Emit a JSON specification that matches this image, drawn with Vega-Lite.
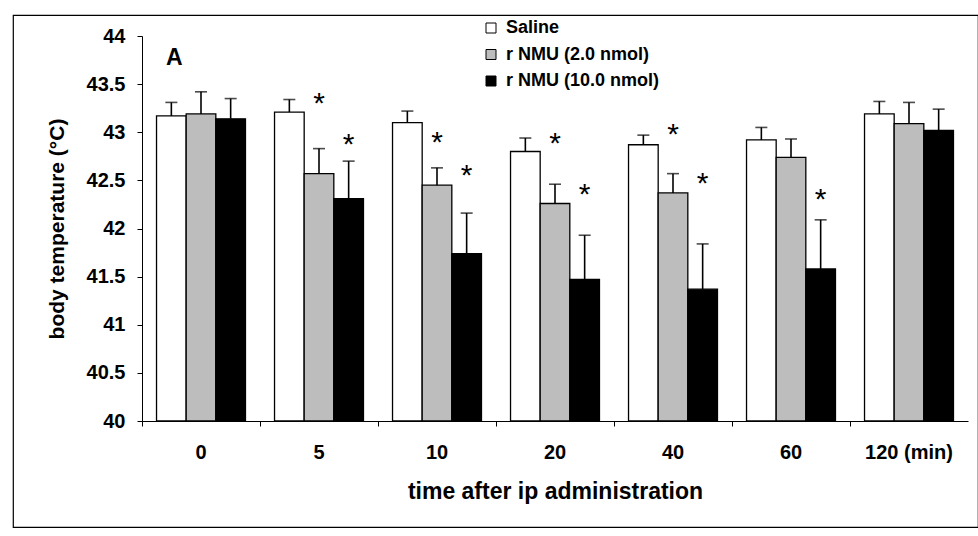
{
  "$schema": "https://vega.github.io/schema/vega-lite/v6.json",
  "autosize": "none",
  "width": 965,
  "height": 512,
  "padding": {"left": 13, "top": 15, "right": 0, "bottom": 9},
  "background": "white",
  "config": {
    "view": {"stroke": "black", "strokeWidth": 1.2},
    "font": "Liberation Sans",
    "axis": {
      "grid": false,
      "domainColor": "black",
      "domainWidth": 1,
      "tickColor": "black",
      "tickWidth": 1,
      "tickSize": 5,
      "labelColor": "black",
      "labelFont": "Liberation Sans",
      "labelFontWeight": "bold",
      "labelFontSize": 20,
      "titleColor": "black",
      "titleFont": "Liberation Sans",
      "titleFontWeight": "bold"
    }
  },
  "data": {
    "values": [
      {"time": "0", "group": "Saline", "mean": 43.17, "upper": 43.31, "star": null},
      {"time": "0", "group": "r NMU (2.0 nmol)", "mean": 43.19, "upper": 43.42, "star": null},
      {"time": "0", "group": "r NMU (10.0 nmol)", "mean": 43.14, "upper": 43.35, "star": null},
      {"time": "5", "group": "Saline", "mean": 43.21, "upper": 43.34, "star": null},
      {"time": "5", "group": "r NMU (2.0 nmol)", "mean": 42.57, "upper": 42.83, "star": 43.38},
      {"time": "5", "group": "r NMU (10.0 nmol)", "mean": 42.31, "upper": 42.70, "star": 42.95},
      {"time": "10", "group": "Saline", "mean": 43.10, "upper": 43.22, "star": null},
      {"time": "10", "group": "r NMU (2.0 nmol)", "mean": 42.45, "upper": 42.63, "star": 42.97},
      {"time": "10", "group": "r NMU (10.0 nmol)", "mean": 41.74, "upper": 42.16, "star": 42.63},
      {"time": "20", "group": "Saline", "mean": 42.80, "upper": 42.94, "star": null},
      {"time": "20", "group": "r NMU (2.0 nmol)", "mean": 42.26, "upper": 42.46, "star": 42.96},
      {"time": "20", "group": "r NMU (10.0 nmol)", "mean": 41.47, "upper": 41.93, "star": 42.43},
      {"time": "40", "group": "Saline", "mean": 42.87, "upper": 42.97, "star": null},
      {"time": "40", "group": "r NMU (2.0 nmol)", "mean": 42.37, "upper": 42.57, "star": 43.05},
      {"time": "40", "group": "r NMU (10.0 nmol)", "mean": 41.37, "upper": 41.84, "star": 42.55},
      {"time": "60", "group": "Saline", "mean": 42.92, "upper": 43.05, "star": null},
      {"time": "60", "group": "r NMU (2.0 nmol)", "mean": 42.74, "upper": 42.93, "star": null},
      {"time": "60", "group": "r NMU (10.0 nmol)", "mean": 41.58, "upper": 42.09, "star": 42.38},
      {"time": "120", "group": "Saline", "mean": 43.19, "upper": 43.32, "star": null},
      {"time": "120", "group": "r NMU (2.0 nmol)", "mean": 43.09, "upper": 43.31, "star": null},
      {"time": "120", "group": "r NMU (10.0 nmol)", "mean": 43.02, "upper": 43.24, "star": null}
    ]
  },
  "encoding": {
    "x": {
      "field": "time",
      "type": "nominal",
      "sort": ["0", "5", "10", "20", "40", "60", "120"],
      "scale": {"range": [129, 955], "paddingInner": 0, "paddingOuter": 0},
      "axis": {
        "orient": "bottom",
        "offset": -106,
        "bandPosition": 0,
        "labelAngle": 0,
        "labelPadding": 16,
        "labelExpr": "datum.value == '120' ? '120 (min)' : datum.value",
        "title": "time after ip administration",
        "titleFontSize": 23,
        "titlePadding": 18
      }
    },
    "xOffset": {
      "field": "group",
      "type": "nominal",
      "sort": ["Saline", "r NMU (2.0 nmol)", "r NMU (10.0 nmol)"],
      "scale": {"paddingInner": 0, "paddingOuter": 0.49}
    }
  },
  "layer": [
    {
      "mark": {"type": "bar", "stroke": "black", "strokeWidth": 1.3},
      "encoding": {
        "y": {
          "field": "mean",
          "type": "quantitative",
          "scale": {"domain": [40, 44], "range": [406, 21], "zero": false, "nice": false},
          "axis": {
            "orient": "left",
            "offset": -129,
            "values": [40, 40.5, 41, 41.5, 42, 42.5, 43, 43.5, 44],
            "format": "~g",
            "labelPadding": 12,
            "title": "body temperature (°C)",
            "titleFontSize": 21,
            "titlePadding": 19
          }
        },
        "y2": {"datum": 40},
        "fill": {
          "field": "group",
          "type": "nominal",
          "sort": ["Saline", "r NMU (2.0 nmol)", "r NMU (10.0 nmol)"],
          "scale": {"range": ["white", "#bdbdbd", "black"]},
          "legend": {
            "orient": "none",
            "legendX": 469,
            "legendY": 4,
            "title": null,
            "symbolType": "square",
            "symbolSize": 100,
            "symbolStrokeColor": "black",
            "symbolStrokeWidth": 1,
            "labelFont": "Liberation Sans",
            "labelFontWeight": "bold",
            "labelFontSize": 18,
            "labelColor": "black",
            "labelOffset": 6,
            "labelLimit": 400,
            "rowPadding": 8.5
          }
        }
      }
    },
    {
      "mark": {"type": "rule", "color": "black", "strokeWidth": 1.6},
      "encoding": {
        "y": {"field": "mean", "type": "quantitative"},
        "y2": {"field": "upper"}
      }
    },
    {
      "mark": {"type": "tick", "color": "black", "size": 12, "thickness": 1.6, "orient": "horizontal"},
      "encoding": {
        "y": {"field": "upper", "type": "quantitative"}
      }
    },
    {
      "transform": [{"filter": "datum.star != null"}],
      "mark": {"type": "text", "text": "*", "fontSize": 30, "font": "Liberation Sans", "baseline": "middle", "align": "center", "dy": 8, "color": "black"},
      "encoding": {
        "y": {"field": "star", "type": "quantitative"}
      }
    },
    {
      "data": {"values": [{"panel": "A"}]},
      "mark": {"type": "text", "fontSize": 23, "fontWeight": "bold", "font": "Liberation Sans", "baseline": "alphabetic", "align": "center", "dx": 3, "color": "black"},
      "encoding": {
        "x": {"datum": "0"},
        "xOffset": {"datum": "Saline"},
        "y": {"datum": 43.70},
        "text": {"field": "panel"}
      }
    }
  ]
}
